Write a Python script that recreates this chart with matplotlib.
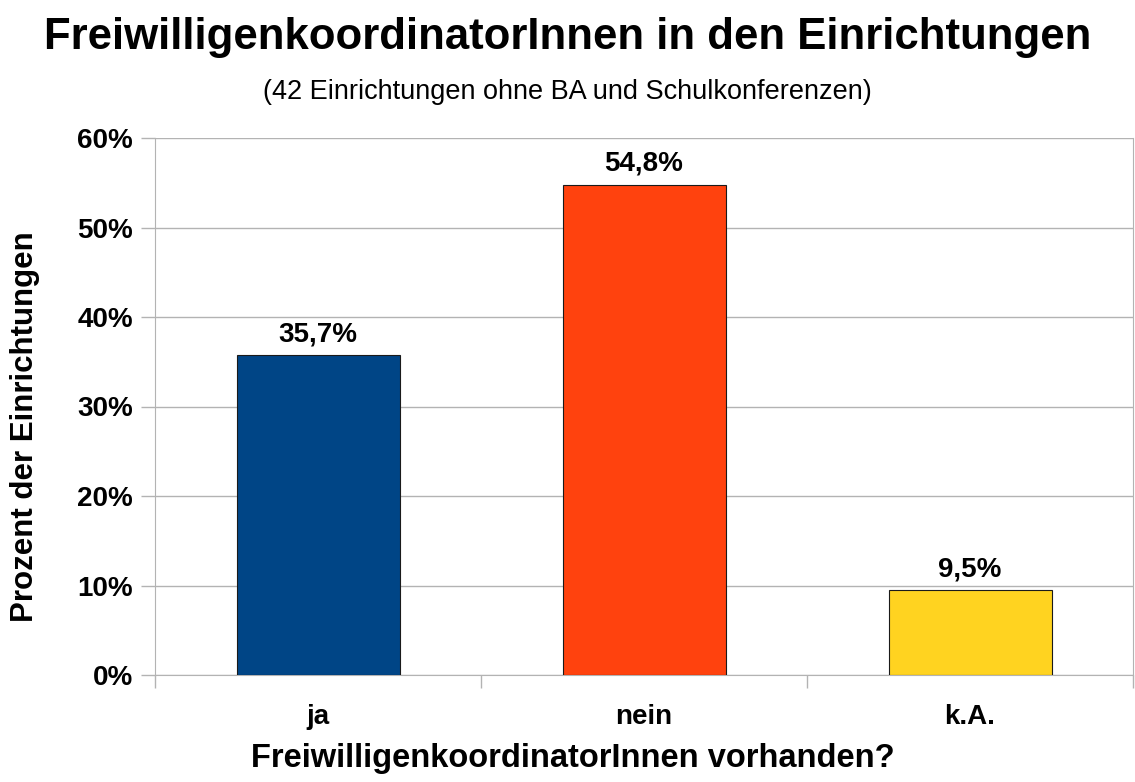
import matplotlib
matplotlib.use("Agg")
import matplotlib.pyplot as plt

plt.rcParams['font.family'] = ['Liberation Sans', 'DejaVu Sans']

categories = ["ja", "nein", "k.A."]
values = [35.7, 54.8, 9.5]
labels = ["35,7%", "54,8%", "9,5%"]
colors = ["#004586", "#ff420e", "#ffd320"]
yticks = [0, 10, 20, 30, 40, 50, 60]

fig = plt.figure(figsize=(11.35, 7.82), dpi=100)
ax = fig.add_axes([155 / 1135, 1 - 675 / 782, (1133 - 155) / 1135, (675 - 138) / 782])

x = range(len(categories))
ax.bar(x, values, width=0.5, color=colors, edgecolor="#1a1a1a", linewidth=0.8, zorder=3)
for xi, v, lab in zip(x, values, labels):
    ax.annotate(lab, (xi, v), xytext=(0, 15), textcoords="offset points",
                ha="center", va="center", fontsize=20, fontweight="bold")

ax.set_xlim(-0.5, 2.5)
ax.set_ylim(0, 60)
ax.set_yticks(yticks)
ax.set_yticklabels([f"{t}%" for t in yticks], fontsize=20, fontweight="bold")
ax.set_xticks([-0.5, 0.5, 1.5, 2.5])
ax.set_xticklabels([])
ax.set_xticks(list(x), minor=True)
ax.set_xticklabels(categories, minor=True, fontsize=20, fontweight="bold")
ax.tick_params(axis="x", which="minor", length=0, pad=21)
ax.tick_params(axis="x", which="major", length=9, color="#b3b3b3", width=1)
ax.tick_params(axis="y", length=10, color="#b3b3b3", width=1, pad=6)
ax.grid(axis="y", color="#b3b3b3", linewidth=1, zorder=0)
for side in ["left", "right", "bottom"]:
    ax.spines[side].set_color("#b3b3b3")
ax.spines["top"].set_visible(False)

ax.set_ylabel("Prozent der Einrichtungen", fontsize=22.5, fontweight="bold", va="center")
ax.yaxis.set_label_coords(-(155 - 25) / 978, 0.5 - 20 / 537)

fig.text(0.5, 1 - 38 / 782, "FreiwilligenkoordinatorInnen in den Einrichtungen",
         ha="center", va="center", fontsize=31.5, fontweight="bold")
fig.text(0.5, 1 - 92 / 782, "(42 Einrichtungen ohne BA und Schulkonferenzen)",
         ha="center", va="center", fontsize=19.5)
fig.text(573 / 1135, 1 - 758 / 782, "FreiwilligenkoordinatorInnen vorhanden?",
         ha="center", va="center", fontsize=23.5, fontweight="bold")

fig.savefig("out.png", dpi=100)
